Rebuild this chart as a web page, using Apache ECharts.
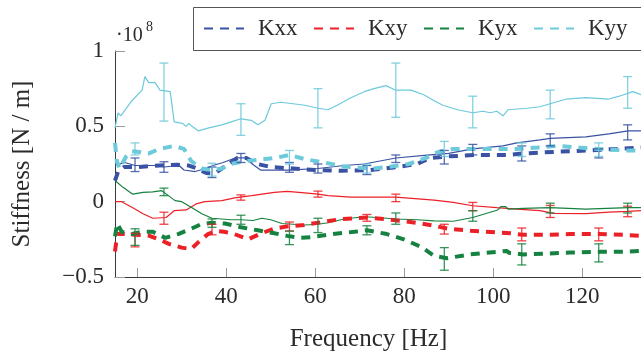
<!DOCTYPE html>
<html>
<head>
<meta charset="utf-8">
<script src="https://cdn.jsdelivr.net/npm/echarts@6/dist/echarts.min.js"></script>
<style>
  html, body { margin: 0; padding: 0; background: #ffffff; }
  #chart { width: 641px; height: 358px; }
</style>
</head>
<body>
<div id="chart"></div>
<script>
// Stiffness coefficients versus frequency, values in units of 1e8 N/m.
// Measured curves: [frequency Hz, stiffness]
const kxxMeas = [[15.0,0.24],[17.2,0.26],[19.5,0.24],[22,0.24],[24.5,0.24],[26.0,0.23],[29.4,0.24],[30.5,0.21],[33.0,0.20],[35.5,0.22],[37.0,0.24],[39.3,0.26],[42.0,0.29],[44.2,0.29],[46.3,0.24],[47.7,0.21],[53.9,0.21],[60.6,0.22],[66.5,0.24],[71.0,0.25],[78.1,0.29],[85.8,0.31],[90,0.32],[95.4,0.35],[102.2,0.37],[105.3,0.39],[110.5,0.41],[112.8,0.42],[120.8,0.43],[126,0.45],[130.3,0.47],[133.2,0.47]];
const kxyMeas = [[15,0.0],[16.5,0.0],[19,-0.04],[21.3,-0.08],[23.5,-0.11],[26.5,-0.105],[28.3,-0.06],[31,-0.055],[33.2,-0.015],[35.2,0.0],[39,0.007],[41.9,0.025],[45.7,0.04],[50.8,0.062],[53.7,0.068],[57,0.06],[60.6,0.05],[62.9,0.04],[68,0.03],[78.1,0.03],[86.7,0.01],[91,-0.005],[95.4,-0.027],[100.8,-0.04],[105.3,-0.05],[110.5,-0.06],[113.5,-0.078],[120.8,-0.08],[126,-0.07],[130.3,-0.065],[133.2,-0.06]];
const kyxMeas = [[15,0.14],[16.8,0.095],[19,0.05],[21.3,0.062],[23.5,0.065],[25.5,0.073],[27,0.04],[28.5,0.007],[30,0.0],[32.3,-0.04],[34.5,-0.08],[36.8,-0.11],[41.1,-0.12],[43.3,-0.12],[46,-0.125],[48,-0.11],[50,-0.12],[52.5,-0.145],[57.7,-0.155],[60.6,-0.15],[62.9,-0.14],[66.5,-0.115],[71,-0.10],[74,-0.105],[78.1,-0.115],[82.9,-0.12],[86.7,-0.127],[91,-0.13],[95.4,-0.105],[99.3,-0.07],[101,-0.055],[101.7,-0.033],[102.8,-0.033],[103.3,-0.05],[106.7,-0.045],[112.8,-0.04],[120.8,-0.05],[130.3,-0.04],[133.2,-0.04]];
const kyyMeas = [[15.0,0.49],[15.7,0.59],[16.3,0.57],[18.8,0.67],[21.1,0.74],[21.7,0.83],[22.6,0.79],[24.0,0.79],[25.1,0.74],[27.4,0.73],[28.3,0.53],[30.1,0.52],[31.0,0.50],[31.6,0.52],[32.3,0.50],[33.7,0.47],[36.1,0.49],[39.0,0.51],[41.1,0.53],[43.3,0.55],[45.6,0.54],[47.1,0.51],[48.7,0.54],[50.1,0.65],[52.3,0.66],[57.7,0.64],[60.6,0.62],[62.9,0.61],[64.9,0.64],[68.0,0.69],[71.0,0.73],[73.2,0.75],[75.9,0.77],[78.1,0.74],[81.5,0.74],[84.4,0.71],[86.7,0.67],[88.7,0.64],[91.9,0.61],[95.4,0.59],[97.7,0.60],[99.3,0.59],[100.8,0.60],[102.2,0.57],[103.3,0.61],[107.6,0.62],[110.5,0.63],[112.8,0.65],[116.3,0.68],[120.8,0.69],[125.8,0.68],[128.3,0.70],[131.4,0.73],[133.2,0.71]];

// Model curves (dashed)
const kxxModel = [[15,0.14],[15.7,0.2],[17,0.23],[20,0.23],[25,0.24],[29,0.245],[31.6,0.24],[33.4,0.22],[35.5,0.19],[37.5,0.19],[40,0.24],[42.5,0.29],[44.5,0.29],[47,0.25],[50,0.23],[55,0.22],[60,0.21],[66,0.205],[72.3,0.21],[78.4,0.23],[82.9,0.25],[85.8,0.29],[89.6,0.30],[96.3,0.31],[103.1,0.31],[106.7,0.32],[113.4,0.33],[121.1,0.34],[127.8,0.35],[133.2,0.36]];
const kxyModel = [[15,-0.33],[15.5,-0.215],[17,-0.215],[19.5,-0.22],[22.6,-0.225],[24.9,-0.25],[27.1,-0.28],[30,-0.305],[32.1,-0.315],[33.7,-0.27],[35.9,-0.215],[37.7,-0.195],[39.5,-0.20],[41.8,-0.215],[44.9,-0.25],[47.5,-0.215],[50.6,-0.18],[53.5,-0.165],[57.5,-0.155],[62,-0.133],[66,-0.115],[71.6,-0.105],[75.5,-0.115],[79.3,-0.127],[83.8,-0.145],[86.7,-0.16],[90,-0.18],[95,-0.193],[101,-0.205],[103.9,-0.21],[106.7,-0.22],[112,-0.22],[117.3,-0.215],[123.7,-0.215],[129.5,-0.22],[133.2,-0.227]];
const kyxModel = [[15,-0.23],[15.5,-0.145],[16.5,-0.2],[18.8,-0.215],[21,-0.2],[23.5,-0.2],[26.3,-0.24],[29.2,-0.215],[32.1,-0.18],[34.3,-0.15],[36.6,-0.14],[39.7,-0.145],[43.3,-0.17],[47.1,-0.19],[50.8,-0.21],[53.7,-0.227],[56.5,-0.24],[59.3,-0.235],[64,-0.215],[68.8,-0.2],[71.6,-0.19],[76.1,-0.215],[79.9,-0.25],[83.8,-0.30],[86.7,-0.36],[89.6,-0.375],[94.8,-0.35],[100.8,-0.333],[103,-0.327],[103.6,-0.34],[106.7,-0.35],[111.2,-0.345],[117.3,-0.338],[124,-0.333],[129.2,-0.333],[133.2,-0.327]];
const kyyModel = [[15,0.39],[15.4,0.27],[16,0.22],[17.5,0.30],[18.8,0.335],[20.5,0.33],[22.6,0.32],[25,0.35],[28.3,0.37],[30.5,0.35],[32.1,0.27],[34.5,0.22],[36.8,0.21],[39,0.22],[41,0.25],[44.5,0.27],[48,0.28],[51,0.29],[54.2,0.31],[58,0.28],[62,0.26],[66,0.235],[70,0.225],[73,0.22],[76.4,0.23],[81,0.25],[84.9,0.29],[87.6,0.33],[91,0.35],[94.6,0.35],[97.8,0.35],[101,0.35],[105.3,0.35],[110,0.36],[114.6,0.37],[119,0.36],[123.5,0.35],[129.6,0.34],[133.2,0.34]];

// Error bars: [frequency Hz, lower, upper]
const kxxMeasErr = [[26.0,0.195,0.265],[43.3,0.26,0.32],[60.6,0.19,0.25],[78.1,0.26,0.31],[95.4,0.31,0.38],[112.8,0.37,0.45],[130.2,0.41,0.51]];
const kxyMeasErr = [[26.0,-0.15,-0.07],[43.3,0.01,0.045],[60.6,0.03,0.07],[78.1,0.0,0.05],[95.4,-0.06,-0.005],[112.8,-0.105,-0.025],[130.2,-0.10,-0.03]];
const kyxMeasErr = [[26.0,0.04,0.09],[43.3,-0.15,-0.09],[60.6,-0.205,-0.11],[78.1,-0.15,-0.075],[95.4,-0.13,-0.06],[112.8,-0.075,-0.01],[130.2,-0.075,-0.01]];
const kyyMeasErr = [[26.0,0.535,0.92],[43.3,0.44,0.65],[60.6,0.49,0.75],[78.1,0.56,0.92],[95.4,0.49,0.70],[112.8,0.55,0.74],[130.2,0.62,0.83]];
const kxxModelErr = [[19.5,0.20,0.29],[36.8,0.16,0.23],[54.2,0.195,0.26],[71.6,0.18,0.24],[89.0,0.25,0.34],[106.4,0.27,0.37],[123.7,0.29,0.35]];
const kxyModelErr = [[19.5,-0.30,-0.21],[36.8,-0.22,-0.15],[54.2,-0.195,-0.135],[71.6,-0.13,-0.085],[89.0,-0.215,-0.15],[106.4,-0.26,-0.175],[123.7,-0.26,-0.175]];
const kyxModelErr = [[19.5,-0.29,-0.18],[36.8,-0.17,-0.115],[54.2,-0.285,-0.195],[71.6,-0.22,-0.16],[89.0,-0.455,-0.305],[106.4,-0.42,-0.28],[123.7,-0.40,-0.28]];
const kyyModelErr = [[19.5,0.31,0.39],[36.8,0.17,0.255],[54.2,0.25,0.34],[71.6,0.19,0.25],[89.0,0.30,0.40],[106.4,0.30,0.39],[123.7,0.30,0.39]];

const xTicks = [20, 40, 60, 80, 100, 120];
const legendNames = ['Kxx', 'Kxy', 'Kyx', 'Kyy'];

const FONT = '"Liberation Serif", "DejaVu Serif", serif';
const TEXT = '#2b2b2b';
const COLORS = { Kxx: '#3a52a3', Kxy: '#ec2027', Kyx: '#16823f', Kyy: '#6ccadb' };

function thinLine(name, data, color) {
  return { type: 'line', name: name, data: data, symbol: 'none', smooth: false,
    lineStyle: { color: color, width: 1.2 }, itemStyle: { color: color }, z: 2, silent: true };
}
function dashedLine(name, data, color) {
  return { type: 'line', name: name, data: data, symbol: 'none', smooth: false,
    lineStyle: { color: color, width: 4, type: [9, 7], cap: 'butt' }, itemStyle: { color: color }, z: 3, silent: true };
}
function errorBars(name, data, color) {
  return {
    type: 'custom', name: name, data: data, z: 4, silent: true,
    encode: { x: 0, y: [1, 2] },
    renderItem: function (params, api) {
      const f = api.value(0);
      const lo = api.coord([f, api.value(1)]);
      const hi = api.coord([f, api.value(2)]);
      const w = 4.5;
      const st = { stroke: color, lineWidth: 1.3, opacity: 0.85 };
      return { type: 'group', children: [
        { type: 'line', shape: { x1: lo[0], y1: lo[1], x2: hi[0], y2: hi[1] }, style: st },
        { type: 'line', shape: { x1: lo[0] - w, y1: lo[1], x2: lo[0] + w, y2: lo[1] }, style: st },
        { type: 'line', shape: { x1: hi[0] - w, y1: hi[1], x2: hi[0] + w, y2: hi[1] }, style: st }
      ] };
    }
  };
}

const chart = echarts.init(document.getElementById('chart'), null, { renderer: 'canvas' });

chart.setOption({
  animation: false,
  backgroundColor: '#ffffff',
  grid: { left: 115, right: 0, top: 51, bottom: 81, containLabel: false },
  legend: {
    data: legendNames,
    left: 193, top: 7, width: 480,
    orient: 'horizontal',
    padding: [10, 10, 10, 10],
    itemWidth: 40, itemHeight: 14, itemGap: 7,
    borderWidth: 0,
    itemStyle: { opacity: 0 },
    textStyle: { fontFamily: FONT, fontSize: 23, color: TEXT, width: 48, padding: [0, 0, 0, 9], lineHeight: 23 },
    selectedMode: false,
    z: 10
  },
  xAxis: {
    type: 'value', min: 15, max: 133.2,
    axisLine: { show: true, onZero: false, lineStyle: { color: '#3a3a3a', width: 1 } },
    axisTick: { show: true, inside: true, length: 9, customValues: xTicks, lineStyle: { color: '#9a9a9a' } },
    axisLabel: { customValues: xTicks, margin: 8, fontFamily: FONT, fontSize: 23, color: TEXT },
    splitLine: { show: false },
    name: 'Frequency [Hz]', nameLocation: 'middle', nameGap: 50,
    nameTextStyle: { fontFamily: FONT, fontSize: 25, color: TEXT, padding: [0, 19, 0, 0] }
  },
  yAxis: {
    type: 'value', min: -0.5, max: 1, interval: 0.5,
    axisLine: { show: true, onZero: false, lineStyle: { color: '#3a3a3a', width: 1 } },
    axisTick: { show: true, inside: true, length: 10, lineStyle: { color: '#9a9a9a' } },
    axisLabel: {
      margin: 11, fontFamily: FONT, fontSize: 23, color: TEXT,
      formatter: function (v) { return v < 0 ? '\u2212' + Math.abs(v) : String(v); }
    },
    splitLine: { show: false },
    name: 'Stiffness [N / m]', nameLocation: 'middle', nameGap: 80,
    nameTextStyle: { fontFamily: FONT, fontSize: 25, color: TEXT }
  },
  graphic: [
    // legend frame, running past the right edge of the canvas
    { type: 'rect', z: 9, silent: true, shape: { x: 193.5, y: 7.5, width: 480, height: 43 },
      style: { fill: '#ffffff', stroke: '#555555', lineWidth: 1 } },
    { type: 'text', left: 116, top: 26, style: { text: '\u00b710', fontFamily: FONT, fontSize: 20, fill: TEXT } },
    { type: 'text', left: 146, top: 20, style: { text: '8', fontFamily: FONT, fontSize: 14, fill: TEXT } }
  ],
  series: [
    thinLine('Kxx measured', kxxMeas, COLORS.Kxx),
    thinLine('Kxy measured', kxyMeas, COLORS.Kxy),
    thinLine('Kyx measured', kyxMeas, COLORS.Kyx),
    thinLine('Kyy measured', kyyMeas, COLORS.Kyy),
    dashedLine('Kxx', kxxModel, COLORS.Kxx),
    dashedLine('Kxy', kxyModel, COLORS.Kxy),
    dashedLine('Kyx', kyxModel, COLORS.Kyx),
    dashedLine('Kyy', kyyModel, COLORS.Kyy),
    errorBars('Kxx measured error', kxxMeasErr, COLORS.Kxx),
    errorBars('Kxy measured error', kxyMeasErr, COLORS.Kxy),
    errorBars('Kyx measured error', kyxMeasErr, COLORS.Kyx),
    errorBars('Kyy measured error', kyyMeasErr, COLORS.Kyy),
    errorBars('Kxx model error', kxxModelErr, COLORS.Kxx),
    errorBars('Kxy model error', kxyModelErr, COLORS.Kxy),
    errorBars('Kyx model error', kyxModelErr, COLORS.Kyx),
    errorBars('Kyy model error', kyyModelErr, COLORS.Kyy)
  ]
});
</script>
</body>
</html>
